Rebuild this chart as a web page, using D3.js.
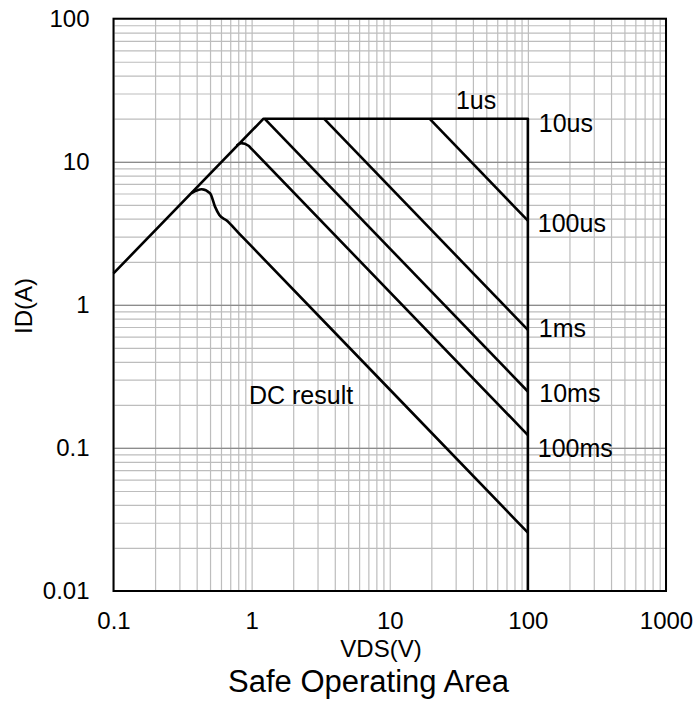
<!DOCTYPE html>
<html>
<head>
<meta charset="utf-8">
<script src="https://cdn.jsdelivr.net/npm/d3@7"></script>
<style>
	body { margin: 0; background: #fff; }
	text { font-family: "Liberation Sans", Arial, sans-serif; fill: #000; }
	.grid line { stroke: #bdbdbd; stroke-width: 1.2; }
	.grid-major line { stroke: #8c8c8c; stroke-width: 1.3; }
	.curve { fill: none; stroke: #000; stroke-width: 2.6; stroke-linejoin: round; }
</style>
</head>
<body>
<svg id="soa" width="697" height="711"></svg>
<script>
// VDS (V), ID (A) pairs
var xTickLabels = [0.1, 1, 10, 100, 1000];
var yTickLabels = [0.01, 0.1, 1, 10, 100];

var envelope = [[0.1, 1.66], [1.22, 20], [100, 20], [100, 0.01]];
var pulse100us = [[19.4, 20], [100, 3.88]];
var pulse1ms = [[3.34, 20], [100, 0.668]];
var pulse10ms = [[1.24, 20], [100, 0.248]];
var pulse100ms = [[0.78, 13.0], [0.84, 13.5], [0.95, 12.95], [1.0, 12.3], [1.05, 11.71], [100, 0.123]];
var dcResult = [[0.368, 6.05], [0.435, 6.42], [0.5, 6.03], [0.543, 4.86], [0.584, 4.25], [0.66, 3.88], [0.8, 3.2], [1, 2.56], [100, 0.0256]];

var curveLabels = [
	{ text: "1us", v: 42.2, i: 23.4, anchor: "middle" },
	{ text: "10us", v: 120, i: 16.2, anchor: "start" },
	{ text: "100us", v: 118, i: 3.25, anchor: "start" },
	{ text: "1ms", v: 120, i: 0.6, anchor: "start" },
	{ text: "10ms", v: 121, i: 0.211, anchor: "start" },
	{ text: "100ms", v: 118, i: 0.0869, anchor: "start" },
	{ text: "DC result", v: 0.957, i: 0.203, anchor: "start" }
];

(function () {
	var svg, margin, width, height, x, y, g, line;

	margin = { top: 18.7, left: 113.5, right: 31, bottom: 120 };
	width = 697 - margin.left - margin.right;
	height = 711 - margin.top - margin.bottom;

	svg = d3.select("#soa");
	g = svg.append("g").attr("transform", "translate(" + margin.left + "," + margin.top + ")");

	x = d3.scaleLog().domain([0.1, 1000]).range([0, width]);
	y = d3.scaleLog().domain([0.01, 100]).range([height, 0]);

	drawGrid();
	drawCurves();
	drawAxes();
	drawLabels();

	function drawGrid() {
		g.append("g")
			.attr("class", "grid")
			.attr("transform", "translate(0," + height + ")")
			.call(d3.axisBottom(x).ticks(20).tickSize(-height).tickFormat(""))
			.call(function (s) { s.select(".domain").remove() });

		g.append("g")
			.attr("class", "grid")
			.call(d3.axisLeft(y).ticks(20).tickSize(-width).tickFormat(""))
			.call(function (s) { s.select(".domain").remove() });

		// decade lines on the current axis are a bit darker
		g.append("g")
			.attr("class", "grid-major")
			.call(d3.axisLeft(y).tickValues(yTickLabels.slice(1, -1)).tickSize(-width).tickFormat(""))
			.call(function (s) { s.select(".domain").remove() });
	}

	function drawCurves() {
		line = d3.line()
			.x(function (d) { return x(d[0]) })
			.y(function (d) { return y(d[1]) });

		[envelope, pulse100us, pulse1ms, pulse10ms].forEach(function (d) {
			g.append("path").attr("class", "curve").attr("d", line(d));
		});

		// only the knees are rounded, the tails stay straight
		line.curve(d3.curveMonotoneX);
		[pulse100ms, dcResult].forEach(function (d) {
			g.append("path").attr("class", "curve").attr("d", line(d));
		});

		g.append("rect")
			.attr("width", width)
			.attr("height", height)
			.attr("fill", "none")
			.attr("stroke", "#000")
			.attr("stroke-width", 2);
	}

	function drawAxes() {
		var fmt = function (d) { return String(d) };

		g.append("g")
			.attr("transform", "translate(0," + height + ")")
			.call(d3.axisBottom(x).tickValues(xTickLabels).tickSize(0).tickPadding(21).tickFormat(fmt))
			.call(function (s) {
				s.select(".domain").remove();
				s.selectAll("text").style("font-size", "24px").attr("fill", "#000");
			});

		g.append("g")
			.call(d3.axisLeft(y).tickValues(yTickLabels).tickSize(0).tickPadding(24).tickFormat(fmt))
			.call(function (s) {
				s.select(".domain").remove();
				s.selectAll("text").style("font-size", "24px").attr("fill", "#000");
			});

		svg.append("text")
			.attr("x", 381)
			.attr("y", 657)
			.attr("text-anchor", "middle")
			.style("font-size", "24px")
			.text("VDS(V)");

		svg.append("text")
			.attr("transform", "translate(32,306) rotate(-90)")
			.attr("text-anchor", "middle")
			.style("font-size", "24px")
			.text("ID(A)");

		svg.append("text")
			.attr("x", 368.5)
			.attr("y", 692)
			.attr("text-anchor", "middle")
			.style("font-size", "31px")
			.text("Safe Operating Area");
	}

	function drawLabels() {
		g.selectAll(".curve-label")
			.data(curveLabels).enter()
			.append("text")
			.attr("class", "curve-label")
			.attr("x", function (d) { return x(d.v) })
			.attr("y", function (d) { return y(d.i) })
			.attr("text-anchor", function (d) { return d.anchor })
			.style("font-size", "25px")
			.text(function (d) { return d.text });
	}
})();
</script>
</body>
</html>
